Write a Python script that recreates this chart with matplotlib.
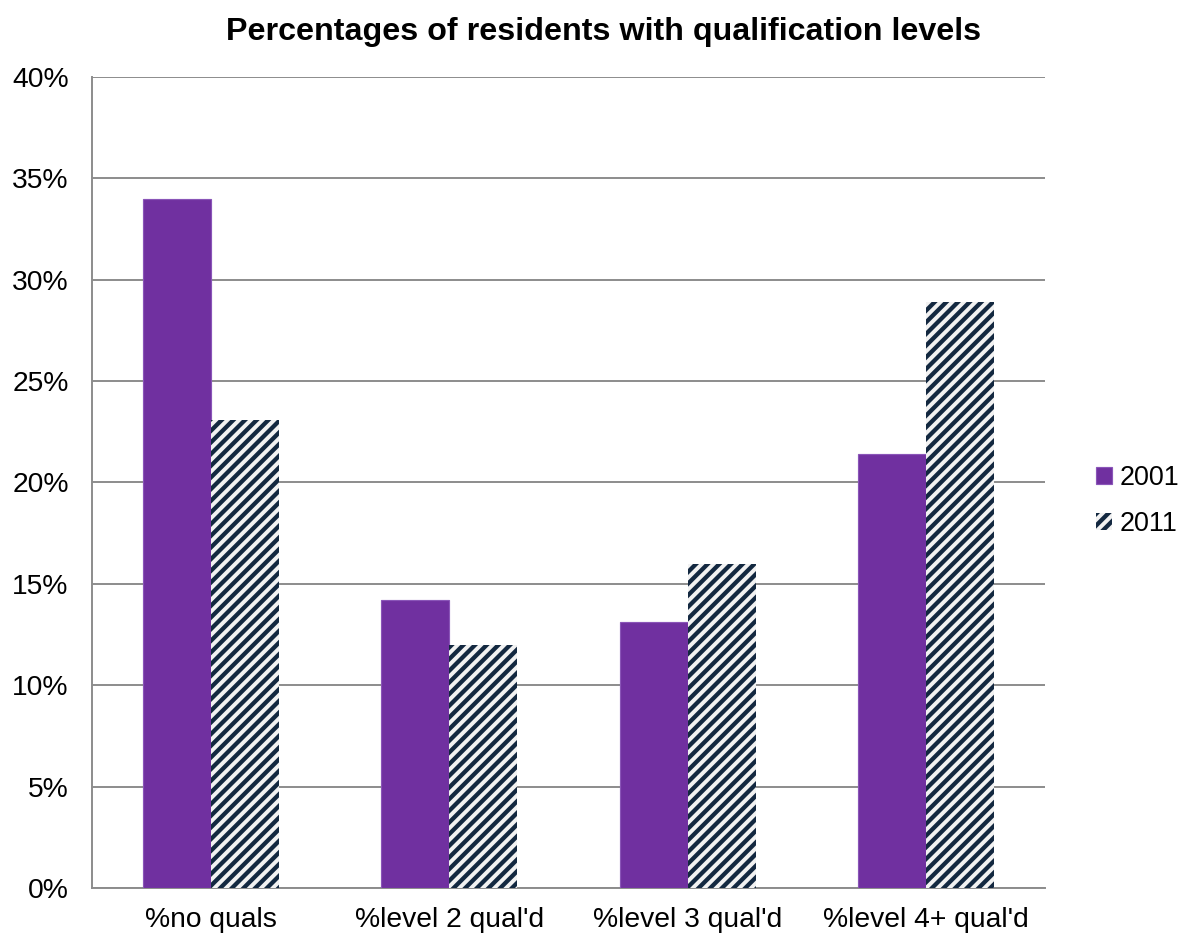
import numpy as np
import matplotlib
matplotlib.use("Agg")
import matplotlib.pyplot as plt
from matplotlib.ticker import MultipleLocator, FuncFormatter

categories = ["%no quals", "%level 2 qual'd", "%level 3 qual'd", "%level 4+ qual'd"]
pct_2001 = [34.0, 14.2, 13.1, 21.4]
pct_2011 = [23.1, 12.0, 16.0, 28.9]

purple = "#7030A0"
navy = "#132840"
grid_grey = "#8c8c8c"

DPI = 140
plt.rcParams["font.family"] = ["Liberation Sans", "DejaVu Sans"]
plt.rcParams["hatch.linewidth"] = 2.2
plt.rcParams["hatch.color"] = navy

fig = plt.figure(figsize=(1187 / DPI, 938 / DPI), dpi=DPI)
ax = fig.add_axes([92 / 1187, 50 / 938, (1045 - 92) / 1187, (888 - 77) / 938])

x = np.arange(len(categories))
w = 0.285
b1 = ax.bar(x - w / 2, pct_2001, w, color=purple, edgecolor="#8a55b8",
            linewidth=0.6, label="2001", zorder=3)
b2 = ax.bar(x + w / 2, pct_2011, w, color="#f2f2f2", edgecolor=navy,
            hatch="////", linewidth=0, label="2011", zorder=3)

ax.set_xlim(-0.5, 3.5)
ax.set_ylim(0, 40)
ax.yaxis.set_major_locator(MultipleLocator(5))
ax.yaxis.set_major_formatter(FuncFormatter(lambda v, p: f"{v:.0f}%"))
ax.set_xticks(x)
ax.set_xticklabels(categories)
ax.tick_params(axis="both", length=0, labelsize=14.5, colors="black")
ax.tick_params(axis="y", pad=12)
ax.tick_params(axis="x", pad=10)

ax.grid(axis="y", color=grid_grey, linewidth=1.0, zorder=0)
for side in ("top", "right"):
    ax.spines[side].set_visible(False)
for side in ("left", "bottom"):
    ax.spines[side].set_color(grid_grey)
    ax.spines[side].set_linewidth(1.0)

fig.text(604 / 1187, 1 - 32 / 938, "Percentages of residents with qualification levels",
         ha="center", va="center", fontsize=16.6, fontweight="bold")

leg = fig.legend(handles=[b1, b2], loc="center left",
                 bbox_to_anchor=(1091 / 1187, 1 - 501 / 938), frameon=False,
                 fontsize=13.8, handlelength=0.6, handleheight=0.6,
                 handletextpad=0.25, labelspacing=0.75, borderpad=0.2,
                 borderaxespad=0)

fig.savefig("out.png", dpi=DPI)
